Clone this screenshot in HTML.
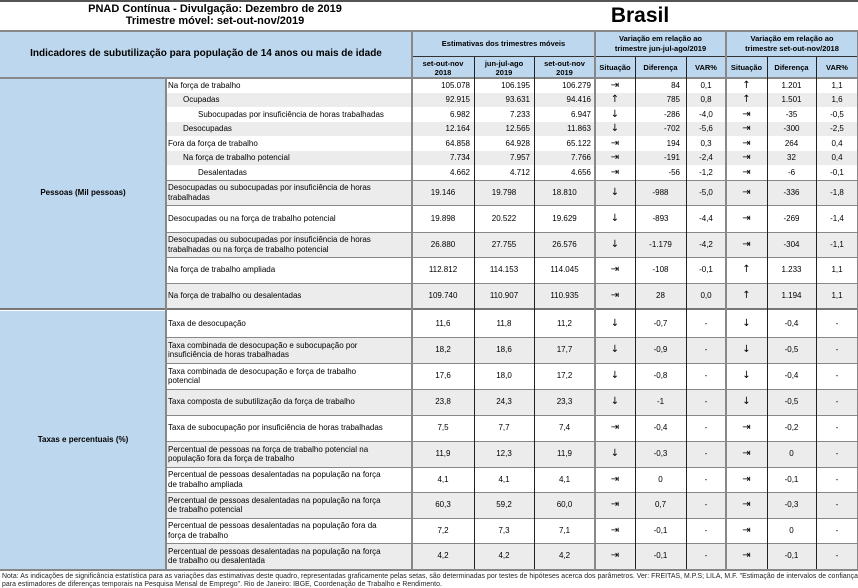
<!DOCTYPE html>
<html><head><meta charset="utf-8">
<style>
body{margin:0;width:858px;height:588px;background:#fff;position:relative;overflow:hidden;font-family:"Liberation Sans",Arial,sans-serif;color:#000}
.a{position:absolute;box-sizing:border-box}
.t{position:absolute;font-size:8px;line-height:9.5px;white-space:nowrap;display:flex;align-items:center;box-sizing:border-box}
</style></head><body>
<div class="a" style="left:0;top:0;width:858px;height:2px;background:#555"></div>
<div class="a" style="left:0;top:3px;width:430px;text-align:center;font-weight:bold;font-size:11px;line-height:12px">PNAD Contínua - Divulgação: Dezembro de 2019<br>Trimestre móvel: set-out-nov/2019</div>
<div class="a" style="left:540px;top:4px;width:200px;text-align:center;font-weight:bold;font-size:21px;line-height:24px">Brasil</div>
<div id="tbl"></div>
<div class="a" style="left:2px;top:573px;width:856px;font-size:6.9px;line-height:7.5px;color:#222;white-space:nowrap;letter-spacing:0.05px">Nota: As indicações de significância estatística para as variações das estimativas deste quadro, representadas graficamente pelas setas, são determinadas por testes de hipóteses acerca dos parâmetros. Ver: FREITAS, M.P.S; LILA, M.F. "Estimação de intervalos de confiança<br>para estimadores de diferenças temporais na Pesquisa Mensal de Emprego". Rio de Janeiro: IBGE, Coordenação de Trabalho e Rendimento.</div>
<script>
const R='⇥',U='↑',D='↓';
const labels=["Na força de trabalho","Ocupadas","Subocupadas por insuficiência de horas trabalhadas","Desocupadas","Fora da força de trabalho","Na força de trabalho potencial","Desalentadas","Desocupadas ou subocupadas por insuficiência de horas trabalhadas","Desocupadas ou na força de trabalho potencial","Desocupadas ou subocupadas por insuficiência de horas trabalhadas ou na força de trabalho potencial","Na força de trabalho ampliada","Na força de trabalho ou desalentadas","Taxa de desocupação","Taxa combinada de desocupação e subocupação por insuficiência de horas trabalhadas","Taxa combinada de desocupação e força de trabalho potencial","Taxa composta de subutilização da força de trabalho","Taxa de subocupação por insuficiência de horas trabalhadas","Percentual de pessoas na força de trabalho potencial na população fora da força de trabalho","Percentual de pessoas desalentadas na população na força de trabalho ampliada","Percentual de pessoas desalentadas na população na força de trabalho potencial","Percentual de pessoas desalentadas na população fora da força de trabalho","Percentual de pessoas desalentadas na população na força de trabalho ou desalentada"];
const wrapped=[null,null,null,null,null,null,null,"Desocupadas ou subocupadas por insuficiência de horas<br>trabalhadas",null,"Desocupadas ou subocupadas por insuficiência de horas<br>trabalhadas ou na força de trabalho potencial",null,null,null,"Taxa combinada de desocupação e subocupação por<br>insuficiência de horas trabalhadas","Taxa combinada de desocupação e força de trabalho<br>potencial",null,null,"Percentual de pessoas na força de trabalho potencial na<br>população fora da força de trabalho","Percentual de pessoas desalentadas na população na força<br>de trabalho ampliada","Percentual de pessoas desalentadas na população na força<br>de trabalho potencial","Percentual de pessoas desalentadas na população fora da<br>força de trabalho","Percentual de pessoas desalentadas na população na força<br>de trabalho ou desalentada"];
const indent=[0,1,2,1,0,1,2,0,0,0,0,0,0,0,0,0,0,0,0,0,0,0];
const est2018=["105.078","92.915","6.982","12.164","64.858","7.734","4.662","19.146","19.898","26.880","112.812","109.740","11,6","18,2","17,6","23,8","7,5","11,9","4,1","60,3","7,2","4,2"];
const est2019a=["106.195","93.631","7.233","12.565","64.928","7.957","4.712","19.798","20.522","27.755","114.153","110.907","11,8","18,6","18,0","24,3","7,7","12,3","4,1","59,2","7,3","4,2"];
const est2019b=["106.279","94.416","6.947","11.863","65.122","7.766","4.656","18.810","19.629","26.576","114.045","110.935","11,2","17,7","17,2","23,3","7,4","11,9","4,1","60,0","7,1","4,2"];
const sit1=[R,U,D,D,R,R,R,D,D,D,R,R,D,D,D,D,R,D,R,R,R,R];
const dif1=["84","785","-286","-702","194","-191","-56","-988","-893","-1.179","-108","28","-0,7","-0,9","-0,8","-1","-0,4","-0,3","0","0,7","-0,1","-0,1"];
const var1=["0,1","0,8","-4,0","-5,6","0,3","-2,4","-1,2","-5,0","-4,4","-4,2","-0,1","0,0","-","-","-","-","-","-","-","-","-","-"];
const sit2=[U,U,R,R,R,R,R,R,R,R,U,U,D,D,D,D,R,R,R,R,R,R];
const dif2=["1.201","1.501","-35","-300","264","32","-6","-336","-269","-304","1.233","1.194","-0,4","-0,5","-0,4","-0,5","-0,2","0","-0,1","-0,3","0","-0,1"];
const var2=["1,1","1,6","-0,5","-2,5","0,4","0,4","-0,1","-1,8","-1,4","-1,1","1,1","1,1","-","-","-","-","-","-","-","-","-","-"];

const X=[0,166,412,474,534,595,635,686,726,767,816,858];
const H=[15,14,15,14,15,14,15,25,27,25,26,25,26,26,26,26,26,26,25,26,25,26];
const tb=document.getElementById('tbl');
function box(x,y,w,h,css,html,name){const d=document.createElement('div');d.className='t';d.style.cssText=`left:${x}px;top:${y}px;width:${w}px;height:${h}px;`+css;d.innerHTML=html||'';


tb.appendChild(d);return d;}
const hb='background:#bdd7ee;';
box(0,30,412,48,hb+'justify-content:center;font-weight:bold;font-size:10px;','Indicadores de subutilização para população de 14 anos ou mais de idade','table-title-header');
box(412,30,183,27,hb+'justify-content:center;font-weight:bold;font-size:7.5px;','Estimativas dos trimestres móveis','estimates-header');
box(595,30,131,27,hb+'justify-content:center;text-align:center;font-weight:bold;font-size:7.5px;','Variação em relação ao<br>trimestre jun-jul-ago/2019','variation-quarter-header');
box(726,30,132,27,hb+'justify-content:center;text-align:center;font-weight:bold;font-size:7.5px;','Variação em relação ao<br>trimestre set-out-nov/2018','variation-year-header');
const sub=["set-out-nov<br>2018","jun-jul-ago<br>2019","set-out-nov<br>2019","Situação","Diferença","VAR%","Situação","Diferença","VAR%"];
for(let i=0;i<9;i++)box(X[i+2],57,X[i+3]-X[i+2],21,hb+'justify-content:center;text-align:center;font-weight:bold;font-size:7.5px;line-height:9px;',sub[i],'column-header');
let y=78;const ys=[];
const arrowCss='justify-content:center;font-family:"DejaVu Sans",sans-serif;font-size:10px;';
for(let i=0;i<labels.length;i++){
 if(i==12)y=311;
 ys.push(y);
 const bg=(i<7?i%2==1:(i<12?(i-7)%2==0:(i-12)%2==1))?'background:#ececec;':'background:#fff;';
 box(166,y,692,H[i],bg,'','row-bg');
 const pad=2+indent[i]*15;
 box(166,y,246,H[i],'padding-left:'+pad+'px;',wrapped[i]||labels[i],'row-label');
 const small=i<7;
 const vals=[est2018[i],est2019a[i],est2019b[i]];
 for(let k=0;k<3;k++)box(X[k+2],y,X[k+3]-X[k+2],H[i],small?'justify-content:flex-end;padding-right:4px;':'justify-content:center;',vals[k],'value-cell');
 box(X[5],y,X[6]-X[5],H[i],arrowCss,sit1[i],'situation-arrow');
 box(X[6],y,X[7]-X[6],H[i],(small?'justify-content:flex-end;padding-right:6px;':'justify-content:center;'),dif1[i],'difference-cell');
 box(X[7],y,X[8]-X[7],H[i],'justify-content:center;',var1[i],'var-cell');
 box(X[8],y,X[9]-X[8],H[i],arrowCss,sit2[i],'situation-arrow');
 box(X[9],y,X[10]-X[9],H[i],'justify-content:center;',dif2[i],'difference-cell');
 box(X[10],y,X[11]-X[10],H[i],'justify-content:center;',var2[i],'var-cell');
 y+=H[i];
}
const bottom=y;
box(0,78,166,bottom-78,'background:#bdd7ee;','','group-column');
box(0,78,166,230,'justify-content:center;font-weight:bold;font-size:8px;','Pessoas (Mil pessoas)','group-label-persons');
box(0,311,166,bottom-311,'justify-content:center;font-weight:bold;font-size:8px;','Taxas e percentuais (%)','group-label-rates');
function line(css,name){const d=document.createElement('div');d.className='a';d.style.cssText=css;


tb.appendChild(d);}
for(let i=7;i<ys.length;i++){ if(i==12)continue; line(`left:166px;top:${ys[i]}px;width:692px;height:1px;background:#888`,'row-border'); }
line('left:0;top:30px;width:858px;height:2px;background:#888','header-top-border');
line('left:412px;top:56px;width:446px;height:1px;background:#333','header-mid-border');
line('left:0;top:77px;width:858px;height:2px;background:#888','header-bottom-border');
line('left:0;top:308px;width:858px;height:3px;background:#777;border-bottom:1px solid #fff','section-separator');
line(`left:0;top:${bottom}px;width:858px;height:2px;background:#888`,'table-bottom-border');
const thick=[166,412,595,726];
for(let i=1;i<X.length-1;i++){
 const x=X[i];const th=thick.includes(x);
 const top=(x==166)?78:([474,534,635,686,767,816].includes(x)?57:30);
 line(`left:${x-(th?1:0)}px;top:${top}px;width:${th?2:1}px;height:${bottom-top}px;background:${th?'#888':'#222'}`,'column-border');
}
line(`left:857px;top:30px;width:1px;height:${bottom-30}px;background:#888`,'right-border');
</script>
</body></html>
